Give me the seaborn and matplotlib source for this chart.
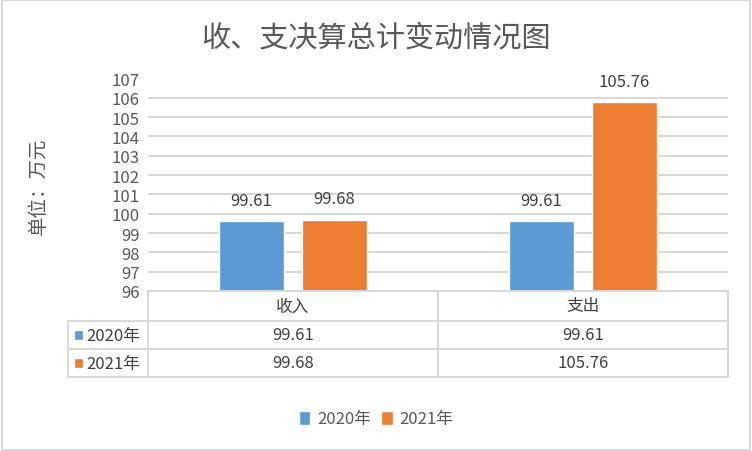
import pandas as pd
import matplotlib
matplotlib.use("Agg")
import matplotlib.pyplot as plt
import seaborn as sns
from matplotlib.lines import Line2D
from matplotlib.patches import Rectangle

# data
categories = ["收入", "支出"]
years = ["2020年", "2021年"]
values_2020 = [99.61, 99.61]
values_2021 = [99.68, 105.76]
colors = ["#5B9BD5", "#ED7D31"]

df = pd.DataFrame({
    "类别": categories * 2,
    "年份": [years[0]] * 2 + [years[1]] * 2,
    "金额": values_2020 + values_2021,
})

sns.set_style("white")
plt.rcParams["font.family"] = ["Noto Sans CJK SC", "DejaVu Sans"]

W, H = 752, 452
fig = plt.figure(figsize=(W / 100, H / 100), dpi=100)

def fx(px):
    return px / W

def fy(py):
    return 1 - py / H

# plot area in pixels
left, right, top, bottom = 148, 728, 79.5, 292
ax = fig.add_axes([fx(left), fy(bottom), fx(right) - fx(left), fy(top) - fy(bottom)])

sns.barplot(data=df, x="类别", y="金额", hue="年份", palette=colors,
            width=0.572, gap=0.217, ax=ax, legend=False, saturation=1)

ax.set_ylim(96, 107)
ax.set_yticks(range(96, 108))
ax.set_xlim(-0.5, 1.5)
ax.grid(axis="y", color="#D9D9D9", lw=1.5)
ax.set_axisbelow(True)
for s in ax.spines.values():
    s.set_visible(False)
ax.set_xticks([])
ax.set_xlabel("")
ax.set_ylabel("")
ax.tick_params(axis="y", length=0, labelsize=12, colors="#595959", pad=6)

for cont in ax.containers:
    ax.bar_label(cont, labels=[f"{v:.2f}" for v in cont.datavalues],
                 padding=9, fontsize=12, color="#404040")

# title and axis label
fig.text(fx(376), fy(38), "收、支决算总计变动情况图", ha="center", va="center",
         fontsize=21, color="#595959")
fig.text(fx(38), fy(186), "单位：万元", rotation=90, ha="center", va="center",
         fontsize=14, color="#595959")

# data table
lc = "#D9D9D9"
row_y = [292, 322, 350, 378]
tab_x = [68, 148, 438, 728]
for i, y in enumerate(row_y):
    x0 = left if i == 0 else tab_x[0]
    fig.add_artist(Line2D([fx(x0), fx(right)], [fy(y), fy(y)], color=lc, lw=1.5))
for j, x in enumerate(tab_x):
    y0 = row_y[1] if j == 0 else row_y[0]
    fig.add_artist(Line2D([fx(x), fx(x)], [fy(y0), fy(row_y[-1])], color=lc, lw=1.5))

col_c = [(tab_x[1] + tab_x[2]) / 2, (tab_x[2] + tab_x[3]) / 2]
for c, name in zip(col_c, categories):
    fig.text(fx(c), fy(307), name, ha="center", va="center", fontsize=12, color="#404040")

rows = [values_2020, values_2021]
for r, (yr, vals, col) in enumerate(zip(years, rows, colors)):
    yc = (row_y[r + 1] + row_y[r + 2]) / 2
    fig.add_artist(Rectangle((fx(74), fy(yc + 5)), fx(9), fy(0) - fy(10),
                             facecolor=col, transform=fig.transFigure))
    fig.text(fx(86), fy(yc), yr, ha="left", va="center", fontsize=12, color="#404040")
    for c, v in zip(col_c, vals):
        fig.text(fx(c), fy(yc), f"{v:.2f}", ha="center", va="center", fontsize=12, color="#404040")

# legend
handles = [Rectangle((0, 0), 1, 1, facecolor=c) for c in colors]
fig.legend(handles, years, loc="center", bbox_to_anchor=(fx(376), fy(420)), ncol=2,
           frameon=False, fontsize=12, handlelength=0.7, handleheight=0.9,
           handletextpad=0.4, columnspacing=0.6, labelcolor="#595959")

# chart border
fig.add_artist(Rectangle((0.002, 0.003), 0.996, 0.994, fill=False, edgecolor="#D9D9D9",
                         lw=1.5, transform=fig.transFigure))

fig.savefig("out.png", dpi=100, facecolor="white")
